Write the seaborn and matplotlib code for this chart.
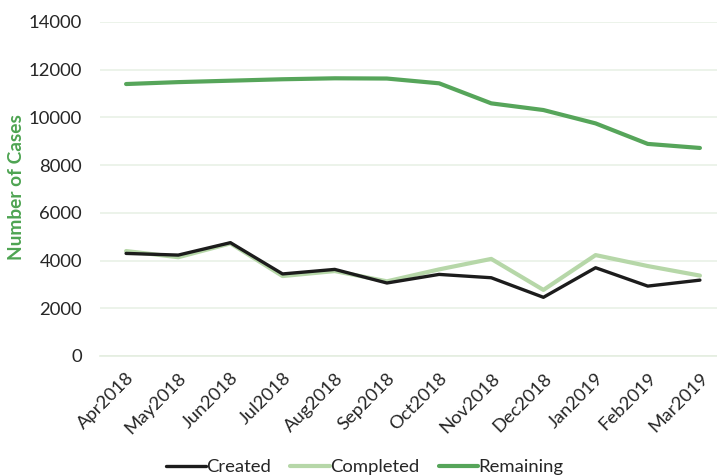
import matplotlib
matplotlib.use("Agg")
import matplotlib.pyplot as plt
import seaborn as sns
import pandas as pd
import numpy as np

months = ["Apr2018", "May2018", "Jun2018", "Jul2018", "Aug2018", "Sep2018",
          "Oct2018", "Nov2018", "Dec2018", "Jan2019", "Feb2019", "Mar2019"]
created = [4300, 4230, 4750, 3440, 3630, 3060, 3420, 3280, 2460, 3700, 2930, 3180]
completed = [4400, 4140, 4720, 3350, 3560, 3130, 3630, 4070, 2770, 4230, 3770, 3370]
remaining = [11400, 11480, 11540, 11600, 11640, 11630, 11430, 10590, 10310, 9750, 8890, 8720]
yticks = [0, 2000, 4000, 6000, 8000, 10000, 12000, 14000]

sns.set_theme(style="white")
plt.rcParams['font.family'] = ['Lato', 'DejaVu Sans']

df = pd.DataFrame({
    "Month": months * 3,
    "idx": list(range(len(months))) * 3,
    "Cases": created + completed + remaining,
    "Series": ["Created"] * 12 + ["Completed"] * 12 + ["Remaining"] * 12,
})

palette = {"Created": "#1c1c1c", "Completed": "#b6d7a8", "Remaining": "#56a55a"}
widths = {"Created": 2.4, "Completed": 3.0, "Remaining": 3.0}

fig = plt.figure(figsize=(7.17, 4.75), dpi=100)
ax = fig.add_axes([100 / 717, 1 - 356 / 475, 626 / 717, (356 - 22) / 475])

for s in ["Created", "Completed", "Remaining"]:
    sub = df[df["Series"] == s]
    sns.lineplot(data=sub, x="idx", y="Cases", ax=ax, color=palette[s],
                 linewidth=widths[s], label=s, zorder=3 if s == "Created" else 2,
                 solid_capstyle="round", solid_joinstyle="round")

ax.set_xlim(-0.5, len(months) - 0.5)
ax.set_ylim(0, 14000)
ax.set_yticks(yticks)
ax.set_yticklabels([str(v) for v in yticks], fontsize=13.3, color="#262626")
ax.set_xticks(range(len(months)))
ax.set_xticklabels(months, rotation=45, ha="right", rotation_mode="anchor",
                   fontsize=13.3, color="#262626")
ax.set_xticks(np.arange(-0.5, len(months), 1.0), minor=True)
ax.tick_params(axis="x", which="major", length=0, pad=10)
ax.tick_params(axis="x", which="minor", length=6, color="#e4eee0", width=1.2, direction="out")
ax.tick_params(axis="y", length=0, pad=13)

ax.grid(axis="y", color="#e9f1e6", linewidth=1.2)
ax.set_axisbelow(True)
for sp in ["left", "right", "top"]:
    ax.spines[sp].set_visible(False)
ax.spines["bottom"].set_color("#e4eee0")
ax.spines["bottom"].set_linewidth(1.2)

ax.set_xlabel("")
ax.set_ylabel("Number of Cases", fontsize=13.8, fontweight="bold", color="#4ea452")
ax.yaxis.set_label_coords(-75 / 626, 0.5 + (356 - 187 - 167) / 334)

leg = ax.legend(loc="center", bbox_to_anchor=((365 - 100) / 626, -(467 - 356) / 334),
                ncol=3, frameon=False, fontsize=13.3, handlelength=2.15,
                handletextpad=0.0, columnspacing=1.05)
for t in leg.get_texts():
    t.set_color("#262626")

fig.savefig("out.png", dpi=100)
